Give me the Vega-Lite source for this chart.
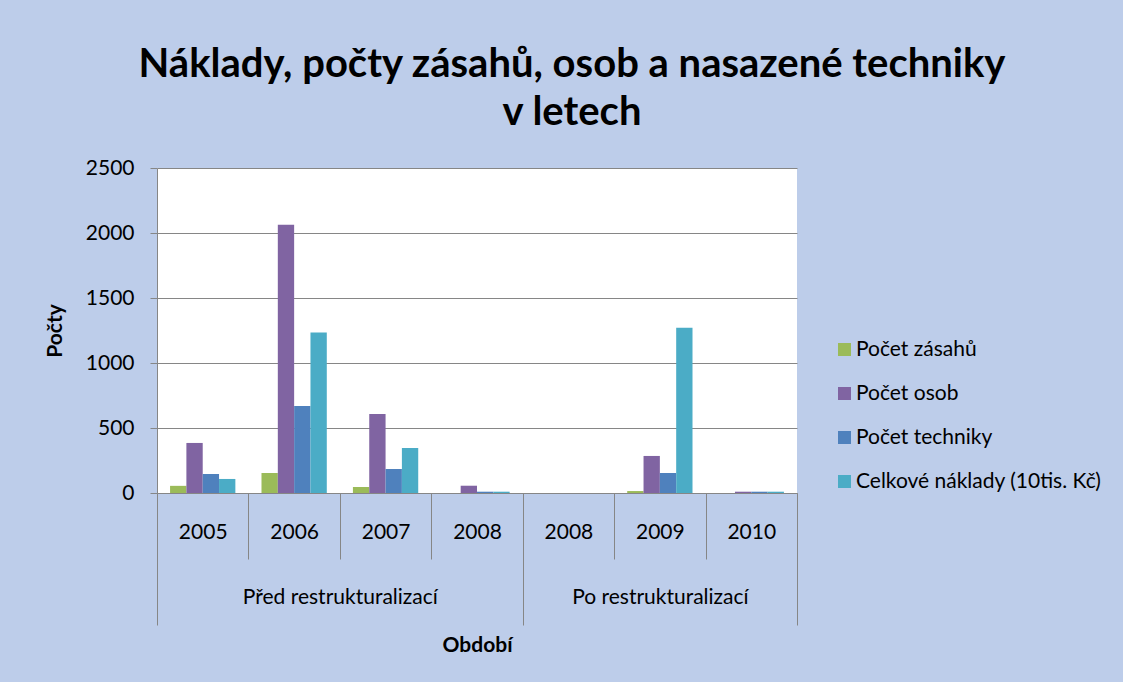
{
  "$schema": "https://vega.github.io/schema/vega-lite/v6.json",
  "autosize": {"type": "none"},
  "width": 640,
  "height": 325,
  "padding": {"left": 157, "top": 168, "right": 326, "bottom": 189},
  "background": "#BDCDEA",
  "title": {
    "text": ["Náklady, počty zásahů, osob a nasazené techniky", "v letech"],
    "font": "Lato",
    "fontSize": 40,
    "fontWeight": "bold",
    "color": "#000000",
    "lineHeight": 48,
    "anchor": "middle",
    "frame": "group",
    "dx": 95,
    "dy": 210,
    "offset": 34
  },
  "config": {
    "view": {"stroke": null, "fill": "#FFFFFF"},
    "axis": {
      "labelFont": "Lato",
      "titleFont": "Lato",
      "labelColor": "#000000",
      "titleColor": "#000000",
      "domainColor": "#868686",
      "tickColor": "#868686",
      "gridColor": "#868686",
      "domainWidth": 1,
      "tickWidth": 1,
      "gridWidth": 1
    },
    "legend": {"labelFont": "Lato"}
  },
  "data": {
    "values": [
      {"obdobi": "Před restrukturalizací|2005", "ukazatel": "Počet zásahů", "hodnota": 55},
      {"obdobi": "Před restrukturalizací|2005", "ukazatel": "Počet osob", "hodnota": 385},
      {"obdobi": "Před restrukturalizací|2005", "ukazatel": "Počet techniky", "hodnota": 146},
      {"obdobi": "Před restrukturalizací|2005", "ukazatel": "Celkové náklady (10tis. Kč)", "hodnota": 108},
      {"obdobi": "Před restrukturalizací|2006", "ukazatel": "Počet zásahů", "hodnota": 154},
      {"obdobi": "Před restrukturalizací|2006", "ukazatel": "Počet osob", "hodnota": 2063},
      {"obdobi": "Před restrukturalizací|2006", "ukazatel": "Počet techniky", "hodnota": 669},
      {"obdobi": "Před restrukturalizací|2006", "ukazatel": "Celkové náklady (10tis. Kč)", "hodnota": 1234},
      {"obdobi": "Před restrukturalizací|2007", "ukazatel": "Počet zásahů", "hodnota": 46},
      {"obdobi": "Před restrukturalizací|2007", "ukazatel": "Počet osob", "hodnota": 608},
      {"obdobi": "Před restrukturalizací|2007", "ukazatel": "Počet techniky", "hodnota": 185},
      {"obdobi": "Před restrukturalizací|2007", "ukazatel": "Celkové náklady (10tis. Kč)", "hodnota": 346},
      {"obdobi": "Před restrukturalizací|2008", "ukazatel": "Počet zásahů", "hodnota": 0},
      {"obdobi": "Před restrukturalizací|2008", "ukazatel": "Počet osob", "hodnota": 56},
      {"obdobi": "Před restrukturalizací|2008", "ukazatel": "Počet techniky", "hodnota": 10},
      {"obdobi": "Před restrukturalizací|2008", "ukazatel": "Celkové náklady (10tis. Kč)", "hodnota": 10},
      {"obdobi": "Po restrukturalizací|2008", "ukazatel": "Počet zásahů", "hodnota": 0},
      {"obdobi": "Po restrukturalizací|2008", "ukazatel": "Počet osob", "hodnota": 0},
      {"obdobi": "Po restrukturalizací|2008", "ukazatel": "Počet techniky", "hodnota": 0},
      {"obdobi": "Po restrukturalizací|2008", "ukazatel": "Celkové náklady (10tis. Kč)", "hodnota": 0},
      {"obdobi": "Po restrukturalizací|2009", "ukazatel": "Počet zásahů", "hodnota": 15},
      {"obdobi": "Po restrukturalizací|2009", "ukazatel": "Počet osob", "hodnota": 285},
      {"obdobi": "Po restrukturalizací|2009", "ukazatel": "Počet techniky", "hodnota": 154},
      {"obdobi": "Po restrukturalizací|2009", "ukazatel": "Celkové náklady (10tis. Kč)", "hodnota": 1272},
      {"obdobi": "Po restrukturalizací|2010", "ukazatel": "Počet zásahů", "hodnota": 0},
      {"obdobi": "Po restrukturalizací|2010", "ukazatel": "Počet osob", "hodnota": 10},
      {"obdobi": "Po restrukturalizací|2010", "ukazatel": "Počet techniky", "hodnota": 10},
      {"obdobi": "Po restrukturalizací|2010", "ukazatel": "Celkové náklady (10tis. Kč)", "hodnota": 10}
    ]
  },
  "resolve": {"scale": {"x": "independent"}, "axis": {"x": "independent"}},
  "layer": [
    {
      "mark": {"type": "bar"},
      "encoding": {
        "x": {
          "field": "obdobi",
          "type": "nominal",
          "sort": null,
          "scale": {"paddingInner": 0, "paddingOuter": 0},
          "axis": {
            "title": null,
            "orient": "bottom",
            "tickBand": "extent",
            "tickSize": 66,
            "labelAngle": 0,
            "labelExpr": "split(datum.label, '|')[1]",
            "labelBaseline": "middle",
            "labelPadding": -27,
            "labelFontSize": 21
          }
        },
        "xOffset": {
          "field": "ukazatel",
          "type": "nominal",
          "scale": {
            "domain": ["Počet zásahů", "Počet osob", "Počet techniky", "Celkové náklady (10tis. Kč)"],
            "paddingInner": 0,
            "paddingOuter": 0.8
          }
        },
        "y": {
          "field": "hodnota",
          "type": "quantitative",
          "scale": {"domain": [0, 2500], "nice": false},
          "axis": {
            "title": "Počty",
            "format": "d",
            "values": [0, 500, 1000, 1500, 2000, 2500],
            "tickSize": 7,
            "labelPadding": 16,
            "labelFontSize": 21,
            "titleFontSize": 21,
            "titleFontWeight": "bold",
            "titlePadding": 20
          }
        },
        "color": {
          "field": "ukazatel",
          "type": "nominal",
          "scale": {
            "domain": ["Počet zásahů", "Počet osob", "Počet techniky", "Celkové náklady (10tis. Kč)"],
            "range": ["#9BBB59", "#8064A2", "#4F81BD", "#4BACC6"]
          },
          "legend": {
            "title": null,
            "orient": "none",
            "legendX": 677,
            "legendY": 171,
            "symbolType": "square",
            "symbolSize": 169,
            "symbolStrokeWidth": 0,
            "labelFontSize": 21,
            "labelLimit": 400,
            "labelOffset": 1,
            "rowPadding": 22,
            "padding": 0
          }
        }
      }
    },
    {
      "mark": {"type": "bar", "opacity": 0},
      "encoding": {
        "x": {
          "field": "obdobi",
          "type": "nominal",
          "sort": null,
          "scale": {"paddingInner": 0, "paddingOuter": 0},
          "axis": {
            "title": "Období",
            "titleFontSize": 21,
            "titleFontWeight": "bold",
            "titlePadding": 9,
            "orient": "bottom",
            "domain": false,
            "tickBand": "extent",
            "tickSize": 132,
            "tickOpacity": {
              "condition": {
                "test": "datum.extra || datum.value == 'Před restrukturalizací|2008' || datum.value == 'Po restrukturalizací|2010'",
                "value": 1
              },
              "value": 0
            },
            "labelAngle": 0,
            "labelLimit": 400,
            "labelExpr": "datum.value == 'Před restrukturalizací|2006' ? 'Před restrukturalizací' : (datum.value == 'Po restrukturalizací|2009' ? 'Po restrukturalizací' : '')",
            "labelOffset": {
              "condition": {"test": "datum.value == 'Před restrukturalizací|2006'", "value": 45.7},
              "value": 0
            },
            "labelBaseline": "middle",
            "labelPadding": -28,
            "labelFontSize": 21
          }
        },
        "y": {
          "field": "hodnota",
          "type": "quantitative",
          "scale": {"domain": [0, 2500], "nice": false},
          "axis": {
            "title": "Počty",
            "format": "d",
            "values": [0, 500, 1000, 1500, 2000, 2500],
            "tickSize": 7,
            "labelPadding": 16,
            "labelFontSize": 21,
            "titleFontSize": 21,
            "titleFontWeight": "bold",
            "titlePadding": 20
          }
        }
      }
    }
  ]
}
